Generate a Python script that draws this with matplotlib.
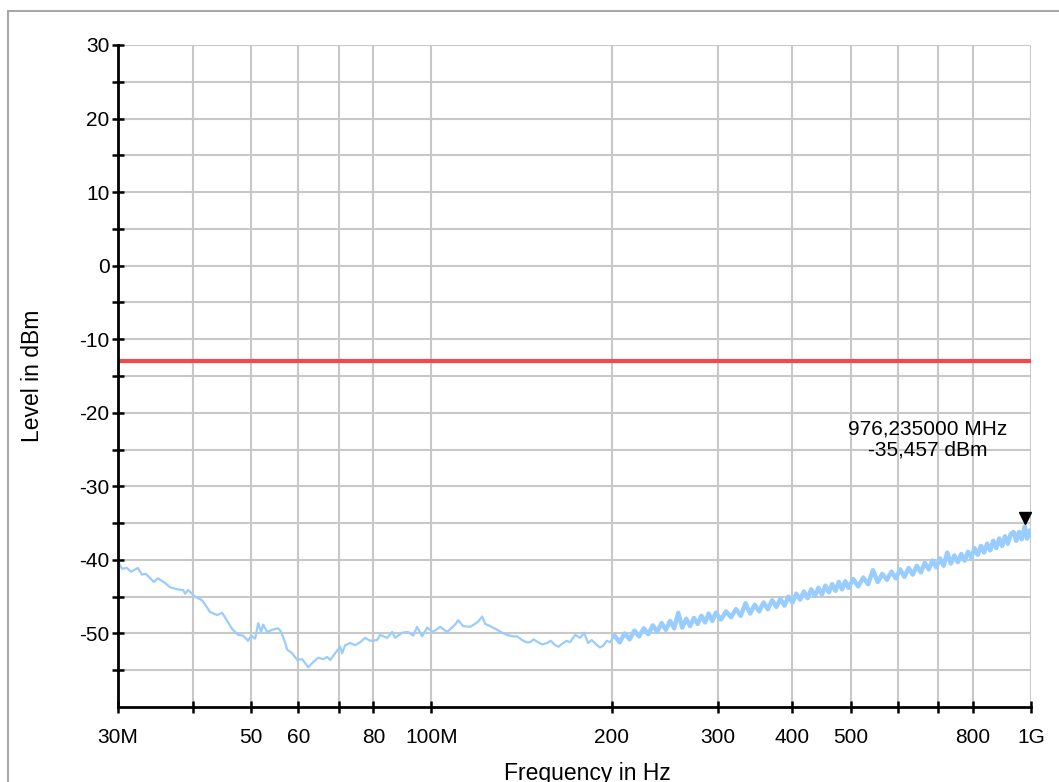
import matplotlib
matplotlib.use("Agg")
import matplotlib.pyplot as plt
from matplotlib.patches import Rectangle
from matplotlib.transforms import ScaledTranslation

plt.rcParams['font.family'] = ['Liberation Sans', 'DejaVu Sans']
plt.rcParams['axes.unicode_minus'] = False

# measured trace, frequency in MHz, level in dBm
freq_low = [30.0, 30.46, 31.05, 31.53, 32.38, 32.88, 33.39, 34.43, 34.96, 35.91,
            36.61, 37.65, 38.53, 38.82, 39.27, 40.34, 41.45, 42.74, 43.91, 44.76,
            46.51, 47.59, 48.51, 49.46, 50.03, 50.81, 51.40, 51.99, 52.39, 53.21,
            54.24, 55.50, 56.15, 57.02, 57.46, 58.57, 59.71, 60.86, 62.28, 63.49,
            64.72, 65.97, 66.99, 67.77, 69.08, 70.42, 70.96, 71.78, 73.18, 74.60,
            76.04, 77.52, 79.02, 81.17, 82.11, 84.35, 85.99, 86.98, 89.35, 91.43,
            93.20, 94.64, 96.48, 98.35, 100.6, 103.4, 106.2, 109.5, 110.8, 112.9,
            116.0, 118.2, 119.6, 121.5, 122.9, 125.3, 128.7, 131.2, 133.7, 136.8,
            139.0, 141.6, 144.0, 146.1, 148.0, 150.6, 153.0, 155.9, 158.0, 160.8,
            163.0, 165.8, 168.0, 170.3, 173.6, 177.0, 179.7, 182.5, 185.0, 188.9,
            191.0, 193.3, 196.0, 198.5]
level_low = [-40.2, -41.2, -41.1, -41.6, -41.1, -42.0, -41.9, -43.0, -42.5, -43.1,
             -43.7, -44.0, -44.1, -44.6, -44.1, -45.0, -45.5, -47.1, -47.5, -47.2,
             -49.4, -50.2, -50.3, -51.0, -50.3, -50.7, -48.6, -49.8, -48.8, -49.8,
             -49.5, -49.3, -49.8, -51.3, -52.2, -52.7, -53.6, -53.5, -54.6, -53.9,
             -53.3, -53.5, -53.2, -53.6, -52.7, -51.8, -52.7, -51.6, -51.3, -51.6,
             -51.2, -50.6, -51.0, -50.9, -50.2, -50.6, -49.8, -50.6, -49.9, -49.8,
             -50.3, -49.1, -50.4, -49.2, -49.8, -49.1, -49.8, -48.8, -48.2, -49.0,
             -49.1, -48.7, -48.4, -47.7, -48.7, -49.0, -49.5, -49.9, -50.2, -50.4,
             -50.4, -50.9, -51.2, -51.2, -50.8, -51.2, -51.5, -51.3, -51.0, -51.6,
             -51.8, -51.3, -51.0, -51.2, -50.2, -50.6, -49.9, -51.3, -50.9, -51.6,
             -51.9, -51.7, -51.0, -51.2]

freq_high = [202, 206, 210, 214, 218, 222, 226, 230, 234, 238, 242, 246, 250, 254,
             258, 262, 266, 270, 274, 278, 282, 286, 290, 294, 298,
             304, 310, 316, 322, 328, 334, 340, 346, 352, 358, 364, 370, 376, 382,
             388, 394, 400, 406, 412, 418, 424, 430, 436, 442, 448, 454, 460, 466,
             472, 478, 484, 490, 496,
             505, 515, 525, 535, 545, 555, 565, 575, 585, 595, 605, 615, 625, 635,
             645, 655, 665, 675, 685, 695, 705, 715, 725, 735, 745, 755, 765, 775,
             785, 795, 805, 815, 825, 835, 845, 855, 865, 875, 885, 895, 905, 915,
             925, 935, 945, 955, 965, 976.235, 985, 995, 1000]
level_high = [-50.3, -51.2, -50.0, -50.8, -49.6, -50.4, -49.3, -50.1, -48.9, -49.8,
              -48.6, -49.5, -48.3, -49.3, -47.2, -49.2, -48.0, -49.0, -47.9, -48.7,
              -47.6, -48.5, -47.3, -48.3, -47.2,
              -48.1, -47.0, -47.8, -46.7, -47.6, -45.9, -47.3, -46.1, -47.0, -45.8,
              -46.7, -45.5, -46.4, -45.3, -46.2, -45.0, -45.8, -44.6, -45.4, -44.3,
              -45.2, -44.0, -44.9, -43.8, -44.7, -43.5, -44.4, -43.3, -44.2, -43.0,
              -44.0, -42.9, -43.8,
              -42.6, -43.6, -42.4, -43.3, -41.4, -43.0, -41.9, -42.7, -41.6, -42.5,
              -41.3, -42.3, -41.1, -42.0, -40.8, -41.7, -40.4, -41.3, -40.1, -41.0,
              -39.8, -40.8, -39.0, -40.5, -39.4, -40.3, -39.2, -40.1, -38.9, -39.7,
              -38.4, -39.3, -38.1, -39.0, -37.8, -38.7, -37.4, -38.4, -37.1, -38.1,
              -36.8, -37.8, -36.5, -36.2, -37.4, -36.2, -37.2, -35.457, -37.1, -36.0,
              -36.7]

limit_level = -13.0
marker_freq = 976.235
marker_level = -35.457

x_ticks = [30, 40, 50, 60, 70, 80, 100, 200, 300, 400, 500, 600, 700, 800, 1000]
x_labels = ['30M', '', '50', '60', '', '80', '100M', '200', '300', '400', '500',
            '', '', '800', '1G']
y_major = [-50, -40, -30, -20, -10, 0, 10, 20, 30]
y_minor = [-55, -45, -35, -25, -15, -5, 5, 15, 25]

W, H = 1059, 782
fig = plt.figure(figsize=(W / 100, H / 100), dpi=100)
ax = fig.add_axes([118 / W, 1 - 707 / H, (1031 - 118) / W, (707 - 45) / H])

# outer frame
fig.patches.append(Rectangle((8 / W, -0.1), 1.2, 1 - 11 / H + 0.1,
                             transform=fig.transFigure, fill=False,
                             edgecolor='#a8a8a8', lw=1.5))

trace_color = '#99ccff'
ax.plot(freq_low + freq_high[:1], level_low + level_high[:1],
        color=trace_color, lw=1.6, zorder=3)
ax.plot(freq_high, level_high, color=trace_color, lw=3.2, zorder=3)
ax.axhline(limit_level, color='#f24a4a', lw=3, zorder=4)

off = ScaledTranslation(0, 6 / 72, fig.dpi_scale_trans)
ax.plot([marker_freq], [marker_level], marker='v', color='black', ms=9,
        transform=ax.transData + off, zorder=5, clip_on=False)
txt = '{:.6f} MHz\n{:.3f} dBm'.format(marker_freq, marker_level).replace('.', ',')
ax.text(0.887, 0.404, txt, transform=ax.transAxes, ha='center', va='center',
        fontsize=15, linespacing=1.1)

ax.set_xscale('log')
ax.set_xlim(30, 1000)
ax.set_ylim(-60, 30)
ax.set_xticks(x_ticks)
ax.set_xticklabels(x_labels)
ax.xaxis.set_minor_locator(plt.NullLocator())
ax.set_yticks(y_major)
ax.set_yticklabels([str(v) for v in y_major])
ax.set_yticks(y_minor, minor=True)

ax.grid(True, which='both', color='#c8c8c8', lw=1.5, zorder=0)
ax.set_axisbelow(True)
for s in ['top', 'right']:
    ax.spines[s].set_visible(False)
for s in ['left', 'bottom']:
    ax.spines[s].set_linewidth(2)
    ax.spines[s].set_zorder(6)

ax.tick_params(axis='both', which='both', direction='inout', length=8, width=1.8,
               labelsize=15)
ax.tick_params(axis='y', pad=2)
ax.tick_params(axis='x', pad=11)

ax.set_xlabel('Frequency in Hz', fontsize=16.5)
ax.xaxis.set_label_coords(0.514, -0.083)
ax.set_ylabel('Level in dBm', fontsize=16.5)
ax.yaxis.set_label_coords(-0.081, 0.5)

fig.savefig('out.png', dpi=100)
